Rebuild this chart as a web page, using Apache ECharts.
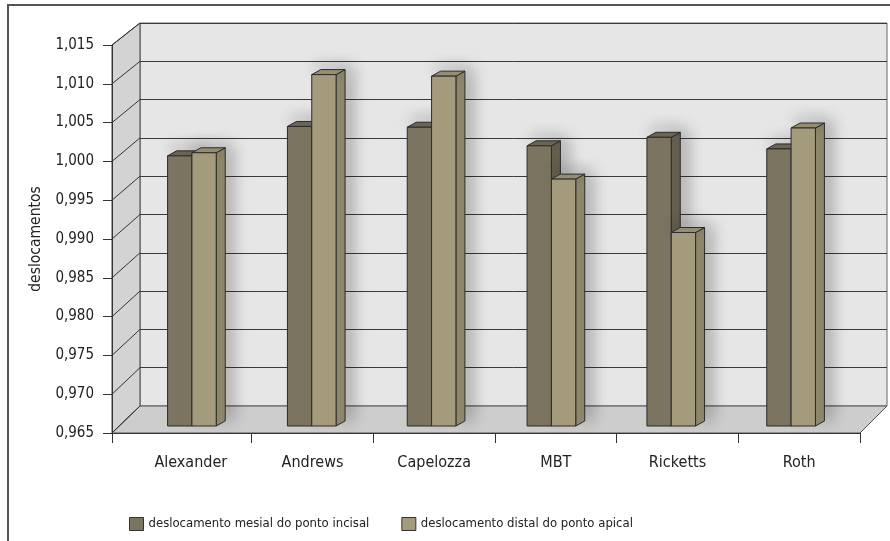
<!DOCTYPE html>
<html>
<head>
<meta charset="utf-8">
<script src="https://cdn.jsdelivr.net/npm/echarts@6/dist/echarts.min.js"></script>
<style>
  html, body { margin: 0; padding: 0; background: #fff; }
  #chart { width: 890px; height: 541px; }
</style>
</head>
<body>
<div id="chart"></div>
<script>
const categories = ['Alexander', 'Andrews', 'Capelozza', 'MBT', 'Ricketts', 'Roth']
const mesial = [0.9999, 1.0037, 1.0036, 1.0012, 1.0023, 1.0008]
const distal = [1.0003, 1.0104, 1.0102, 0.9969, 0.9900, 1.0035]
const seriesNames = ['deslocamento mesial do ponto incisal', 'deslocamento distal do ponto apical']
const yTicks = [0.965, 0.970, 0.975, 0.980, 0.985, 0.990, 0.995, 1.000, 1.005, 1.010, 1.015]

const yMin = yTicks[0]
const yMax = yTicks[yTicks.length - 1]
const yStep = 0.005
const font = "'DejaVu Sans Condensed', 'Liberation Sans', sans-serif"

// layout of the fake 3d box
const FRONT = {left: 112, top: 45, right: 30, bottom: 108}
const BACK = {left: 140, top: 23, right: 3, bottom: 135}
const BARS = {left: 132, top: 39, right: 39, bottom: 115}
const LABELS = {left: 130, top: 45, right: 30, bottom: 108}

const shades = [
  {front: '#7a7461', top: '#6d6856', side: '#676251'},
  {front: '#a49b7c', top: '#9a9174', side: '#918a6e'}
]

const fmt = v => v.toFixed(3).replace('.', ',')

function bar3d(shade, offset){
  return (params, api) => {
    const cat = api.value(0)
    const top = api.coord([cat, api.value(1)])
    const base = api.coord([cat, yMin])
    const w = api.size([1, 0])[0] * 0.203
    const x0 = top[0] + offset * w, x1 = x0 + w
    const dx = 9, dy = 5
    const line = {stroke: '#2b2b2b', lineWidth: 1}
    return {
      type: 'group',
      children: [
        {type: 'polygon', shape: {points: [[x1, top[1]], [x1 + dx, top[1] - dy], [x1 + dx, base[1] - dy], [x1, base[1]]]},
          style: Object.assign({fill: shade.side, shadowBlur: 16, shadowColor: 'rgba(0,0,0,0.35)', shadowOffsetX: 6, shadowOffsetY: -4}, line)},
        {type: 'polygon', shape: {points: [[x0, top[1]], [x0 + dx, top[1] - dy], [x1 + dx, top[1] - dy], [x1, top[1]]]},
          style: Object.assign({fill: shade.top, shadowBlur: 14, shadowColor: 'rgba(0,0,0,0.25)', shadowOffsetY: -5}, line)},
        {type: 'rect', shape: {x: x0, y: top[1], width: w, height: base[1] - top[1]},
          style: Object.assign({fill: shade.front}, line)}
      ]
    }
  }
}

const valueAxis = (grid, extra) => Object.assign({
  type: 'value', gridIndex: grid, min: yMin, max: yMax, interval: yStep,
  axisLine: {show: false}, axisTick: {show: false}, axisLabel: {show: false}, splitLine: {show: false}
}, extra)

const catAxis = (grid, extra) => Object.assign({
  type: 'category', gridIndex: grid, data: categories,
  axisLine: {show: false}, axisTick: {show: false}, axisLabel: {show: false}, splitLine: {show: false}
}, extra)

const chart = echarts.init(document.getElementById('chart'))
chart.setOption({
  animation: false,
  textStyle: {fontFamily: font, color: '#222'},
  grid: [
    Object.assign({}, FRONT),
    Object.assign({show: true, backgroundColor: '#e6e6e6', borderColor: '#666', borderWidth: 1}, BACK),
    Object.assign({}, BARS),
    Object.assign({}, LABELS)
  ],
  xAxis: [
    catAxis(0, {z: 5, axisLine: {show: true, lineStyle: {color: '#333'}},
      axisTick: {show: true, length: 10, interval: i => i === 0, lineStyle: {color: '#333'}}}),
    catAxis(1),
    catAxis(2),
    catAxis(3, {axisTick: {show: true, length: 10, interval: i => i > 0, lineStyle: {color: '#333'}},
      axisLabel: {show: true, margin: 22, fontSize: 16, color: '#222', fontFamily: font}})
  ],
  yAxis: [
    valueAxis(0, {z: 5, axisLine: {show: true, lineStyle: {color: '#333'}},
      axisTick: {show: true, length: 9, lineStyle: {color: '#333'}},
      axisLabel: {show: true, margin: 18, fontSize: 15, color: '#222', fontFamily: font, formatter: fmt},
      name: 'deslocamentos', nameLocation: 'middle', nameGap: 68,
      nameTextStyle: {fontSize: 15.5, color: '#222', fontFamily: font}}),
    valueAxis(1, {splitLine: {show: true, lineStyle: {color: '#3a3a3a', width: 1}}}),
    valueAxis(2),
    valueAxis(3)
  ],
  legend: {
    left: 124, top: 512, itemWidth: 14, itemHeight: 13, itemGap: 32, icon: 'rect',
    itemStyle: {borderColor: '#333', borderWidth: 1},
    textStyle: {fontSize: 13, color: '#222', fontFamily: font},
    data: seriesNames
  },
  series: [mesial, distal].map((vals, k) => ({
    type: 'custom',
    name: seriesNames[k],
    xAxisIndex: 2, yAxisIndex: 2,
    itemStyle: {color: shades[k].front},
    renderItem: bar3d(shades[k], k - 1),
    encode: {x: 0, y: 1},
    data: vals.map((v, i) => [i, v])
  }))
})

// side wall, floor and outer frame, placed from the axes
const yF = v => chart.convertToPixel({yAxisIndex: 0}, v)
const yB = v => chart.convertToPixel({yAxisIndex: 1}, v)
const W = 890
const wallLines = yTicks.map(v => ({
  type: 'line', z: 2,
  shape: {x1: FRONT.left, y1: yF(v), x2: BACK.left, y2: yB(v)},
  style: {stroke: '#333', lineWidth: 1}
}))
chart.setOption({
  graphic: [
    {type: 'rect', z: 0, shape: {x: 8, y: 5, width: 900, height: 560},
      style: {fill: null, stroke: '#555', lineWidth: 2}},
    {type: 'polygon', z: 1,
      shape: {points: [[FRONT.left, yF(yMax)], [BACK.left, yB(yMax)], [BACK.left, yB(yMin)], [FRONT.left, yF(yMin)]]},
      style: {fill: '#d3d3d3', stroke: '#444', lineWidth: 1}},
    {type: 'polygon', z: 1,
      shape: {points: [[FRONT.left, yF(yMin)], [BACK.left, yB(yMin)], [W - BACK.right, yB(yMin)], [W - FRONT.right, yF(yMin)]]},
      style: {fill: '#cdcdcd', stroke: '#555', lineWidth: 1}}
  ].concat(wallLines)
})
</script>
</body>
</html>
